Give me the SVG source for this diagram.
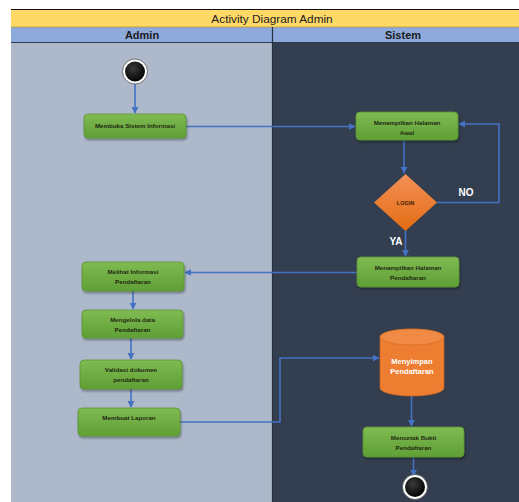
<svg xmlns="http://www.w3.org/2000/svg" width="519" height="502" viewBox="0 0 519 502">
  <defs>
    <style>
      .title { font-family: "Liberation Sans", Arial, sans-serif; font-size: 11.8px; fill: #222; }
      .lane-head { font-family: "Liberation Sans", Arial, sans-serif; font-size: 11px; font-weight: bold; fill: #1a1a1a; }
      .act { fill: url(#gGreen); stroke: #5a9634; stroke-width: 0.8; filter: url(#shadow); }
      .act-text { font-family: "Liberation Sans", Arial, sans-serif; font-size: 6.2px; font-weight: bold; fill: #1f2a12; text-anchor: middle; }
      .flow { fill: none; stroke: #4472C4; stroke-width: 1.6; }
      .guard { font-family: "Liberation Sans", Arial, sans-serif; font-size: 10px; font-weight: bold; fill: #ffffff; }
    </style>
    <linearGradient id="gGreen" x1="0" y1="0" x2="0" y2="1">
      <stop offset="0" stop-color="#7fbb52"/>
      <stop offset="1" stop-color="#5f9f35"/>
    </linearGradient>
    <linearGradient id="gOrange" x1="0" y1="0" x2="0" y2="1">
      <stop offset="0" stop-color="#f39058"/>
      <stop offset="1" stop-color="#e46c12"/>
    </linearGradient>
    <radialGradient id="gBlack" cx="0.4" cy="0.35" r="0.7">
      <stop offset="0" stop-color="#3a3a3a"/>
      <stop offset="1" stop-color="#000000"/>
    </radialGradient>
    <filter id="shadow" x="-20%" y="-30%" width="140%" height="170%">
      <feDropShadow dx="1" dy="2" stdDeviation="1.2" flood-color="#000" flood-opacity="0.35"/>
    </filter>
    <marker id="arrow" viewBox="0 0 10 10" refX="9" refY="5" markerWidth="4.5" markerHeight="4.5" orient="auto" markerUnits="strokeWidth">
      <path d="M0,0 L10,5 L0,10 z" fill="#4472C4"/>
    </marker>
  </defs>

  <!-- page background -->
  <rect x="0" y="0" width="519" height="502" fill="#ffffff"/>

  <!-- swimlane frame -->
  <g id="frame">
    <rect x="11" y="10" width="530" height="17" fill="#FFD966"/>
    <line x1="11" y1="9.5" x2="519" y2="9.5" stroke="#111" stroke-width="1"/>
    <rect x="11" y="27" width="530" height="15" fill="#8EA9DB"/>
    <line x1="11" y1="27" x2="519" y2="27" stroke="#b89a3a" stroke-width="0.8"/>
    <rect x="11" y="42" width="261" height="460" fill="#ADB9CA"/>
    <rect x="272" y="42" width="260" height="460" fill="#333F50"/>
    <line x1="11" y1="42.5" x2="519" y2="42.5" stroke="#2e3a4a" stroke-width="1.2"/>
    <line x1="272.5" y1="27" x2="272.5" y2="502" stroke="#27303d" stroke-width="1.2"/>
    <text class="title" x="272" y="22.5" text-anchor="middle">Activity Diagram Admin</text>
    <text class="lane-head" x="142" y="38.5" text-anchor="middle">Admin</text>
    <text class="lane-head" x="403" y="38.5" text-anchor="middle">Sistem</text>
  </g>

  <!-- connectors -->
  <g id="connectors">
    <path class="flow" d="M135,84 V113" marker-end="url(#arrow)"/>
    <path class="flow" d="M186,126.5 H355" marker-end="url(#arrow)"/>
    <path class="flow" d="M404,140 V173" marker-end="url(#arrow)"/>
    <path class="flow" d="M437,202.5 H499 V124 H459" marker-end="url(#arrow)"/>
    <path class="flow" d="M405.5,231 V256" marker-end="url(#arrow)"/>
    <path class="flow" d="M357,272.5 H185" marker-end="url(#arrow)"/>
    <path class="flow" d="M133,291 V309" marker-end="url(#arrow)"/>
    <path class="flow" d="M131,338 V359" marker-end="url(#arrow)"/>
    <path class="flow" d="M131,389 V407" marker-end="url(#arrow)"/>
    <path class="flow" d="M180,422 H280 V358 H379" marker-end="url(#arrow)"/>
    <path class="flow" d="M411.5,396 V426" marker-end="url(#arrow)"/>
    <path class="flow" d="M413.5,457 V476" marker-end="url(#arrow)"/>
    <text class="guard" x="466" y="196" text-anchor="middle">NO</text>
    <text class="guard" x="396" y="245" text-anchor="middle">YA</text>
  </g>

  <!-- start node -->
  <g id="start">
    <circle cx="135" cy="71.5" r="12.5" fill="#ffffff" stroke="#555" stroke-width="0.8"/>
    <circle cx="135" cy="71.5" r="10" fill="url(#gBlack)"/>
  </g>

  <g id="membuka-sistem">
    <rect class="act" x="84" y="114" width="102" height="24" rx="4"/>
    <text class="act-text" x="135" y="128">Membuka Sistem Informasi</text>
  </g>

  <g id="halaman-awal">
    <rect class="act" x="356" y="112" width="102" height="28" rx="4"/>
    <text class="act-text" x="407" y="124.5">Menampilkan Halaman</text>
    <text class="act-text" x="407" y="134.5">Awal</text>
  </g>

  <g id="login">
    <polygon points="405.5,174 437,202.5 405.5,231 374,202.5" fill="url(#gOrange)"/>
    <text x="405.5" y="204.5" text-anchor="middle" font-family="Liberation Sans, Arial, sans-serif" font-size="5.5" font-weight="bold" fill="#3a1c05">LOGIN</text>
  </g>

  <g id="halaman-pendaftaran">
    <rect class="act" x="357" y="257" width="102" height="30" rx="4"/>
    <text class="act-text" x="408" y="269.5">Menampilkan Halaman</text>
    <text class="act-text" x="408" y="280">Pendaftaran</text>
  </g>

  <g id="melihat-informasi">
    <rect class="act" x="82" y="262" width="102" height="29" rx="4"/>
    <text class="act-text" x="133" y="274">Melihat Informasi</text>
    <text class="act-text" x="133" y="284">Pendaftaran</text>
  </g>

  <g id="mengelola-data">
    <rect class="act" x="82" y="310" width="101" height="28" rx="4"/>
    <text class="act-text" x="132.5" y="321.5">Mengelola data</text>
    <text class="act-text" x="132.5" y="331.5">Pendaftaran</text>
  </g>

  <g id="validasi-dokumen">
    <rect class="act" x="80" y="360" width="102" height="29" rx="4"/>
    <text class="act-text" x="131" y="372">Validasi dokumen</text>
    <text class="act-text" x="131" y="382">pendaftaran</text>
  </g>

  <g id="membuat-laporan">
    <rect class="act" x="78" y="408" width="102" height="28" rx="4"/>
    <text class="act-text" x="129" y="419.5">Membuat Laporan</text>
  </g>

  <g id="menyimpan-pendaftaran">
    <path d="M380,337 A32,8 0 0 1 444,337 V388 A32,8 0 0 1 380,388 Z" fill="#ED7D31" stroke="#c9661f" stroke-width="0.6"/>
    <ellipse cx="412" cy="337" rx="32" ry="8" fill="#f08a45" stroke="#c9661f" stroke-width="0.6"/>
    <text x="412" y="364" text-anchor="middle" font-family="Liberation Sans, Arial, sans-serif" font-size="7.5" font-weight="bold" fill="#ffffff">Menyimpan</text>
    <text x="412" y="374" text-anchor="middle" font-family="Liberation Sans, Arial, sans-serif" font-size="7.5" font-weight="bold" fill="#ffffff">Pendaftaran</text>
  </g>

  <g id="mencetak-bukti">
    <rect class="act" x="363" y="427" width="101" height="30" rx="4"/>
    <text class="act-text" x="413.5" y="439.5">Mencetak Bukti</text>
    <text class="act-text" x="413.5" y="449.5">Pendaftaran</text>
  </g>

  <!-- end node -->
  <g id="end">
    <circle cx="415" cy="487" r="12.5" fill="#ffffff" stroke="#555" stroke-width="0.8"/>
    <circle cx="415" cy="487" r="10" fill="url(#gBlack)"/>
  </g>
</svg>
